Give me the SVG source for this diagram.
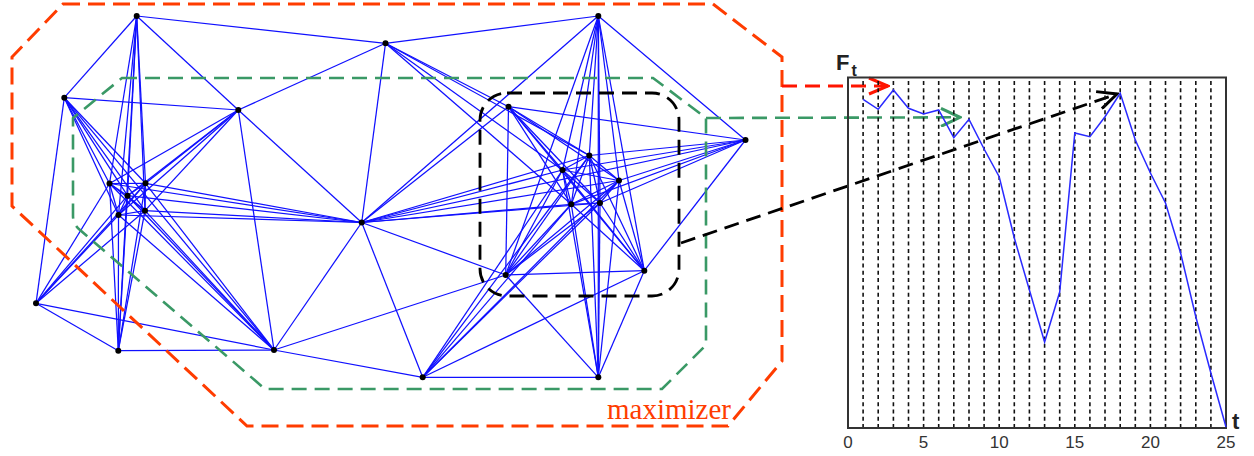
<svg xmlns="http://www.w3.org/2000/svg" width="1254" height="456" viewBox="0 0 1254 456">
<style>
.e{stroke:#1010ff;stroke-width:1.25;fill:none}
.n{fill:#000}
.red{stroke:#ff3c00;stroke-width:3;fill:none;stroke-dasharray:17 8}
.grn{stroke:#3a9966;stroke-width:2.6;fill:none;stroke-dasharray:15 8}
.blk{stroke:#000;stroke-width:2.8;fill:none;stroke-dasharray:15 8}
.grid{stroke:#111;stroke-width:1.6;stroke-dasharray:4 3.3;fill:none}
.tick{font-family:"Liberation Sans",Arial,sans-serif;font-size:17px;fill:#333;text-anchor:middle}
.lab{font-family:"Liberation Sans",Arial,sans-serif;font-weight:bold;fill:#222}
</style>
<defs>
<marker id="mr" viewBox="0 0 22 20" refX="20" refY="10" markerWidth="22" markerHeight="20" markerUnits="userSpaceOnUse" orient="auto"><path d="M1,2 L20,10 L1,18" fill="none" stroke="#ff1500" stroke-width="3"/></marker>
<marker id="mg" viewBox="0 0 22 20" refX="20" refY="10" markerWidth="22" markerHeight="20" markerUnits="userSpaceOnUse" orient="auto"><path d="M1,1 L20,10 L1,19" fill="none" stroke="#3a9966" stroke-width="3"/></marker>
<marker id="mk" viewBox="0 0 22 20" refX="20" refY="10" markerWidth="22" markerHeight="20" markerUnits="userSpaceOnUse" orient="auto"><path d="M1,1 L20,10 L1,19" fill="none" stroke="#000" stroke-width="3"/></marker>
</defs>
<rect width="1254" height="456" fill="#fff"/>

<g id="connectors">
<line class="e" x1="136.7" y1="16" x2="385.5" y2="43.3"/>
<line class="e" x1="136.7" y1="16" x2="64.3" y2="97.7"/>
<line class="e" x1="136.7" y1="16" x2="238.3" y2="110"/>
<line class="e" x1="136.7" y1="16" x2="109.5" y2="183.5"/>
<line class="e" x1="136.7" y1="16" x2="145.5" y2="183.3"/>
<line class="e" x1="136.7" y1="16" x2="127.5" y2="195.7"/>
<line class="e" x1="136.7" y1="16" x2="118.5" y2="215"/>
<line class="e" x1="136.7" y1="16" x2="145" y2="210.7"/>
<line class="e" x1="136.7" y1="16" x2="118.3" y2="350.7"/>
<line class="e" x1="385.5" y1="43.3" x2="598.3" y2="16"/>
<line class="e" x1="385.5" y1="43.3" x2="238.3" y2="110"/>
<line class="e" x1="385.5" y1="43.3" x2="361.7" y2="222.5"/>
<line class="e" x1="385.5" y1="43.3" x2="508.5" y2="106.7"/>
<line class="e" x1="385.5" y1="43.3" x2="589.3" y2="155.5"/>
<line class="e" x1="385.5" y1="43.3" x2="562.5" y2="170"/>
<line class="e" x1="385.5" y1="43.3" x2="571.3" y2="204.3"/>
<line class="e" x1="64.3" y1="97.7" x2="238.3" y2="110"/>
<line class="e" x1="64.3" y1="97.7" x2="36" y2="303.3"/>
<line class="e" x1="64.3" y1="97.7" x2="109.5" y2="183.5"/>
<line class="e" x1="64.3" y1="97.7" x2="145.5" y2="183.3"/>
<line class="e" x1="64.3" y1="97.7" x2="127.5" y2="195.7"/>
<line class="e" x1="64.3" y1="97.7" x2="118.5" y2="215"/>
<line class="e" x1="64.3" y1="97.7" x2="145" y2="210.7"/>
<line class="e" x1="64.3" y1="97.7" x2="274" y2="350"/>
<line class="e" x1="238.3" y1="110" x2="109.5" y2="183.5"/>
<line class="e" x1="238.3" y1="110" x2="145.5" y2="183.3"/>
<line class="e" x1="238.3" y1="110" x2="127.5" y2="195.7"/>
<line class="e" x1="238.3" y1="110" x2="118.5" y2="215"/>
<line class="e" x1="238.3" y1="110" x2="145" y2="210.7"/>
<line class="e" x1="238.3" y1="110" x2="361.7" y2="222.5"/>
<line class="e" x1="238.3" y1="110" x2="274" y2="350"/>
<line class="e" x1="598.3" y1="16" x2="361.7" y2="222.5"/>
<line class="e" x1="598.3" y1="16" x2="745.5" y2="140"/>
<line class="e" x1="598.3" y1="16" x2="589.3" y2="155.5"/>
<line class="e" x1="598.3" y1="16" x2="562.5" y2="170"/>
<line class="e" x1="598.3" y1="16" x2="619" y2="180.5"/>
<line class="e" x1="598.3" y1="16" x2="571.3" y2="204.3"/>
<line class="e" x1="598.3" y1="16" x2="600" y2="203"/>
<line class="e" x1="598.3" y1="16" x2="598.3" y2="377.3"/>
<line class="e" x1="598.3" y1="16" x2="505.7" y2="275"/>
<line class="e" x1="598.3" y1="16" x2="644.3" y2="270.7"/>
<line class="e" x1="361.7" y1="222.5" x2="109.5" y2="183.5"/>
<line class="e" x1="361.7" y1="222.5" x2="145.5" y2="183.3"/>
<line class="e" x1="361.7" y1="222.5" x2="127.5" y2="195.7"/>
<line class="e" x1="361.7" y1="222.5" x2="118.5" y2="215"/>
<line class="e" x1="361.7" y1="222.5" x2="145" y2="210.7"/>
<line class="e" x1="361.7" y1="222.5" x2="508.5" y2="106.7"/>
<line class="e" x1="361.7" y1="222.5" x2="589.3" y2="155.5"/>
<line class="e" x1="361.7" y1="222.5" x2="562.5" y2="170"/>
<line class="e" x1="361.7" y1="222.5" x2="619" y2="180.5"/>
<line class="e" x1="361.7" y1="222.5" x2="571.3" y2="204.3"/>
<line class="e" x1="361.7" y1="222.5" x2="600" y2="203"/>
<line class="e" x1="361.7" y1="222.5" x2="745.5" y2="140"/>
<line class="e" x1="361.7" y1="222.5" x2="274" y2="350"/>
<line class="e" x1="361.7" y1="222.5" x2="422.7" y2="377.3"/>
<line class="e" x1="361.7" y1="222.5" x2="505.7" y2="275"/>
<line class="e" x1="36" y1="303.3" x2="118.3" y2="350.7"/>
<line class="e" x1="36" y1="303.3" x2="274" y2="350"/>
<line class="e" x1="36" y1="303.3" x2="109.5" y2="183.5"/>
<line class="e" x1="36" y1="303.3" x2="127.5" y2="195.7"/>
<line class="e" x1="36" y1="303.3" x2="118.5" y2="215"/>
<line class="e" x1="36" y1="303.3" x2="145" y2="210.7"/>
<line class="e" x1="36" y1="303.3" x2="145.5" y2="183.3"/>
<line class="e" x1="118.3" y1="350.7" x2="274" y2="350"/>
<line class="e" x1="118.3" y1="350.7" x2="109.5" y2="183.5"/>
<line class="e" x1="118.3" y1="350.7" x2="145.5" y2="183.3"/>
<line class="e" x1="118.3" y1="350.7" x2="127.5" y2="195.7"/>
<line class="e" x1="118.3" y1="350.7" x2="118.5" y2="215"/>
<line class="e" x1="118.3" y1="350.7" x2="145" y2="210.7"/>
<line class="e" x1="274" y1="350" x2="422.7" y2="377.3"/>
<line class="e" x1="274" y1="350" x2="505.7" y2="275"/>
<line class="e" x1="274" y1="350" x2="109.5" y2="183.5"/>
<line class="e" x1="274" y1="350" x2="145.5" y2="183.3"/>
<line class="e" x1="274" y1="350" x2="127.5" y2="195.7"/>
<line class="e" x1="274" y1="350" x2="118.5" y2="215"/>
<line class="e" x1="274" y1="350" x2="145" y2="210.7"/>
<line class="e" x1="109.5" y1="183.5" x2="145.5" y2="183.3"/>
<line class="e" x1="109.5" y1="183.5" x2="127.5" y2="195.7"/>
<line class="e" x1="109.5" y1="183.5" x2="118.5" y2="215"/>
<line class="e" x1="109.5" y1="183.5" x2="145" y2="210.7"/>
<line class="e" x1="145.5" y1="183.3" x2="127.5" y2="195.7"/>
<line class="e" x1="145.5" y1="183.3" x2="118.5" y2="215"/>
<line class="e" x1="145.5" y1="183.3" x2="145" y2="210.7"/>
<line class="e" x1="127.5" y1="195.7" x2="118.5" y2="215"/>
<line class="e" x1="127.5" y1="195.7" x2="145" y2="210.7"/>
<line class="e" x1="118.5" y1="215" x2="145" y2="210.7"/>
<line class="e" x1="508.5" y1="106.7" x2="745.5" y2="140"/>
<line class="e" x1="508.5" y1="106.7" x2="505.7" y2="275"/>
<line class="e" x1="508.5" y1="106.7" x2="644.3" y2="270.7"/>
<line class="e" x1="508.5" y1="106.7" x2="589.3" y2="155.5"/>
<line class="e" x1="508.5" y1="106.7" x2="562.5" y2="170"/>
<line class="e" x1="508.5" y1="106.7" x2="619" y2="180.5"/>
<line class="e" x1="508.5" y1="106.7" x2="571.3" y2="204.3"/>
<line class="e" x1="508.5" y1="106.7" x2="600" y2="203"/>
<line class="e" x1="745.5" y1="140" x2="589.3" y2="155.5"/>
<line class="e" x1="745.5" y1="140" x2="562.5" y2="170"/>
<line class="e" x1="745.5" y1="140" x2="619" y2="180.5"/>
<line class="e" x1="745.5" y1="140" x2="571.3" y2="204.3"/>
<line class="e" x1="745.5" y1="140" x2="600" y2="203"/>
<line class="e" x1="745.5" y1="140" x2="644.3" y2="270.7"/>
<line class="e" x1="505.7" y1="275" x2="644.3" y2="270.7"/>
<line class="e" x1="505.7" y1="275" x2="598.3" y2="377.3"/>
<line class="e" x1="505.7" y1="275" x2="589.3" y2="155.5"/>
<line class="e" x1="505.7" y1="275" x2="562.5" y2="170"/>
<line class="e" x1="505.7" y1="275" x2="619" y2="180.5"/>
<line class="e" x1="505.7" y1="275" x2="571.3" y2="204.3"/>
<line class="e" x1="505.7" y1="275" x2="600" y2="203"/>
<line class="e" x1="644.3" y1="270.7" x2="598.3" y2="377.3"/>
<line class="e" x1="644.3" y1="270.7" x2="422.7" y2="377.3"/>
<line class="e" x1="644.3" y1="270.7" x2="589.3" y2="155.5"/>
<line class="e" x1="644.3" y1="270.7" x2="562.5" y2="170"/>
<line class="e" x1="644.3" y1="270.7" x2="619" y2="180.5"/>
<line class="e" x1="644.3" y1="270.7" x2="571.3" y2="204.3"/>
<line class="e" x1="644.3" y1="270.7" x2="600" y2="203"/>
<line class="e" x1="422.7" y1="377.3" x2="598.3" y2="377.3"/>
<line class="e" x1="422.7" y1="377.3" x2="589.3" y2="155.5"/>
<line class="e" x1="422.7" y1="377.3" x2="562.5" y2="170"/>
<line class="e" x1="422.7" y1="377.3" x2="619" y2="180.5"/>
<line class="e" x1="422.7" y1="377.3" x2="571.3" y2="204.3"/>
<line class="e" x1="422.7" y1="377.3" x2="600" y2="203"/>
<line class="e" x1="598.3" y1="377.3" x2="589.3" y2="155.5"/>
<line class="e" x1="598.3" y1="377.3" x2="562.5" y2="170"/>
<line class="e" x1="598.3" y1="377.3" x2="619" y2="180.5"/>
<line class="e" x1="598.3" y1="377.3" x2="571.3" y2="204.3"/>
<line class="e" x1="598.3" y1="377.3" x2="600" y2="203"/>
<line class="e" x1="589.3" y1="155.5" x2="562.5" y2="170"/>
<line class="e" x1="589.3" y1="155.5" x2="619" y2="180.5"/>
<line class="e" x1="589.3" y1="155.5" x2="571.3" y2="204.3"/>
<line class="e" x1="589.3" y1="155.5" x2="600" y2="203"/>
<line class="e" x1="562.5" y1="170" x2="619" y2="180.5"/>
<line class="e" x1="562.5" y1="170" x2="571.3" y2="204.3"/>
<line class="e" x1="562.5" y1="170" x2="600" y2="203"/>
<line class="e" x1="619" y1="180.5" x2="571.3" y2="204.3"/>
<line class="e" x1="619" y1="180.5" x2="600" y2="203"/>
<line class="e" x1="571.3" y1="204.3" x2="600" y2="203"/>
</g>

<g id="nodes">
<circle id="nA" class="n" cx="136.7" cy="16" r="3"/>
<circle id="nB" class="n" cx="385.5" cy="43.3" r="3"/>
<circle id="nC" class="n" cx="64.3" cy="97.7" r="3"/>
<circle id="nD" class="n" cx="238.3" cy="110" r="3"/>
<circle id="nE" class="n" cx="109.5" cy="183.5" r="3"/>
<circle id="nF" class="n" cx="145.5" cy="183.3" r="3"/>
<circle id="nG" class="n" cx="127.5" cy="195.7" r="3"/>
<circle id="nH" class="n" cx="118.5" cy="215" r="3"/>
<circle id="nI" class="n" cx="145" cy="210.7" r="3"/>
<circle id="nJ" class="n" cx="361.7" cy="222.5" r="3"/>
<circle id="nK" class="n" cx="598.3" cy="16" r="3"/>
<circle id="nL" class="n" cx="508.5" cy="106.7" r="3"/>
<circle id="nM" class="n" cx="745.5" cy="140" r="3"/>
<circle id="nN" class="n" cx="589.3" cy="155.5" r="3"/>
<circle id="nO" class="n" cx="562.5" cy="170" r="3"/>
<circle id="nP" class="n" cx="619" cy="180.5" r="3"/>
<circle id="nQ" class="n" cx="571.3" cy="204.3" r="3"/>
<circle id="nR" class="n" cx="600" cy="203" r="3"/>
<circle id="nS" class="n" cx="36" cy="303.3" r="3"/>
<circle id="nT" class="n" cx="118.3" cy="350.7" r="3"/>
<circle id="nU" class="n" cx="274" cy="350" r="3"/>
<circle id="nV" class="n" cx="505.7" cy="275" r="3"/>
<circle id="nW" class="n" cx="644.3" cy="270.7" r="3"/>
<circle id="nX" class="n" cx="422.7" cy="377.3" r="3"/>
<circle id="nY" class="n" cx="598.3" cy="377.3" r="3"/>
</g>

<g id="regions">
<path id="maximizer-region" class="red" d="M63,4 L713,4 L782,57 L782,361 L728,426 L247,426 L12,206 L12,57 Z"/>
<path id="green-region" class="grn" d="M122,78 L653,78 L706,118 L706,345 L662,389 L265,389 L80,230 Q73,224 73,216 L73,118 Z"/>
<rect id="black-region" class="blk" x="480" y="93" width="199" height="203" rx="27" ry="27"/>
<text x="607" y="419" font-family="'Liberation Serif','Times New Roman',serif" font-size="29" fill="#ff3c00">maximizer</text>
</g>

<g id="arrows">
<path d="M782,86 L888,86" stroke="#ff1500" stroke-width="2.8" stroke-dasharray="15 8" fill="none" marker-end="url(#mr)"/>
<path d="M706,118 L960,117.3" class="grn" marker-end="url(#mg)"/>
<path d="M681,243 L1117,94" class="blk" marker-end="url(#mk)"/>
</g>

<g id="chart">
<path class="grid" d="M863.1,81V427M878.2,81V427M893.4,81V427M908.5,81V427M923.6,81V427M938.7,81V427M953.8,81V427M969,81V427M984.1,81V427M999.2,81V427M1014.3,81V427M1029.4,81V427M1044.6,81V427M1059.7,81V427M1074.8,81V427M1089.9,81V427M1105,81V427M1120.2,81V427M1135.3,81V427M1150.4,81V427M1165.5,81V427M1180.6,81V427M1195.8,81V427M1210.9,81V427"/>
<rect x="848" y="77.5" width="378" height="350.5" fill="none" stroke="#333" stroke-width="2"/>
<polyline fill="none" stroke="#2a2aff" stroke-width="1.5" points="863.1,99.3 878.2,109.3 893.4,90 908.5,108.3 923.6,114 938.7,110 953.8,137.7 969,119.3 984.1,149 999.2,176.7 1014.3,238 1029.4,290 1044.6,342 1059.7,292 1074.8,133 1089.9,136.7 1105,116.7 1120.2,93.3 1135.3,140 1150.4,173 1165.5,203 1180.6,253 1195.8,316.7 1210.9,373 1226,427"/>
<text class="lab" x="836" y="70" font-size="22">F</text>
<text class="lab" x="851.5" y="76" font-size="16">t</text>
<text class="lab" x="1232" y="429" font-size="22">t</text>
<text class="tick" x="848" y="448">0</text>
<text class="tick" x="923.6" y="448">5</text>
<text class="tick" x="999.2" y="448">10</text>
<text class="tick" x="1074.8" y="448">15</text>
<text class="tick" x="1150.4" y="448">20</text>
<text class="tick" x="1226" y="448">25</text>
</g>
</svg>
